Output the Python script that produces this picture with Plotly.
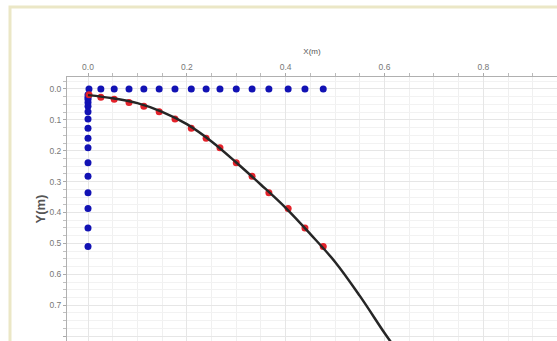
import plotly.graph_objects as go

# Measured positions (m)
x_pos = [0.002, 0.026, 0.053, 0.083, 0.113, 0.144, 0.176, 0.209, 0.239, 0.267,
         0.300, 0.332, 0.366, 0.405, 0.439, 0.476]
y_pos = [0.019, 0.027, 0.033, 0.044, 0.056, 0.074, 0.097, 0.127, 0.160, 0.190,
         0.239, 0.283, 0.336, 0.387, 0.450, 0.510]

# Projections of the positions onto the axes
proj_x_on_top = [0.0] * len(x_pos)
proj_y_on_left = [0.0] * len(y_pos)

# Trend curve
curve_x = [0.0, 0.05, 0.10, 0.15, 0.20, 0.25, 0.30, 0.35, 0.40, 0.45, 0.50, 0.55, 0.60, 0.62]
curve_y = [0.020, 0.030, 0.046, 0.074, 0.114, 0.170, 0.238, 0.310, 0.385, 0.470, 0.560, 0.670, 0.790, 0.835]

x_ticks = [0.0, 0.2, 0.4, 0.6, 0.8]
y_ticks = [0.0, 0.1, 0.2, 0.3, 0.4, 0.5, 0.6, 0.7, 0.8]

fig = go.Figure()

blue = "#1212b4"
fig.add_trace(go.Scatter(x=x_pos, y=proj_x_on_top, mode="markers",
                         marker=dict(color=blue, size=7), showlegend=False))
fig.add_trace(go.Scatter(x=proj_y_on_left, y=y_pos, mode="markers",
                         marker=dict(color=blue, size=7), showlegend=False))
fig.add_trace(go.Scatter(x=x_pos, y=y_pos, mode="markers",
                         marker=dict(color="#e3222a", size=7), showlegend=False))
fig.add_trace(go.Scatter(x=curve_x, y=curve_y, mode="lines", line_shape="spline",
                         line=dict(color="#262626", width=2.5), showlegend=False))

W, H = 557, 341
L, T = 67, 77
pw, ph = W - L, H - T

fig.update_layout(
    width=W, height=H,
    margin=dict(l=L, r=0, t=T, b=0),
    paper_bgcolor="white", plot_bgcolor="white",
    font=dict(family="Liberation Sans, Arial, sans-serif", color="#777777", size=8),
    xaxis=dict(
        side="top", range=[-0.0425, 0.949],
        tickvals=x_ticks, ticktext=[f"{v:.1f}" for v in x_ticks],
        ticks="outside", ticklen=3, tickcolor="#aaaaaa",
        showline=True, linecolor="#b0b0b0", linewidth=1,
        showgrid=True, gridcolor="#e6e6e6", gridwidth=1,
        zeroline=False,
        minor=dict(dtick=0.05, ticks="outside", ticklen=3, tickcolor="#bbbbbb",
                   showgrid=True, gridcolor="#f0f0f0"),
        title=dict(text="X(m)", font=dict(size=8, color="#555555"), standoff=5),
        tickfont=dict(size=8.5, color="#777777"),
    ),
    yaxis=dict(
        autorange=False, range=[0.816, -0.0387],
        tickvals=y_ticks, ticktext=[f"{v:.1f}" for v in y_ticks],
        ticks="outside", ticklen=3, tickcolor="#aaaaaa",
        showline=True, linecolor="#b0b0b0", linewidth=1,
        showgrid=True, gridcolor="#e6e6e6", gridwidth=1,
        zeroline=False,
        minor=dict(dtick=0.025, ticks="outside", ticklen=3, tickcolor="#c0c0c0",
                   showgrid=True, gridcolor="#f2f2f2"),
        title=dict(text="<b>Y(m)</b>", font=dict(size=13, color="#555555"), standoff=0),
        tickfont=dict(size=8.5, color="#777777"),
    ),
    shapes=[
        dict(type="rect", xref="paper", yref="paper",
             x0=(10 - L) / pw, x1=1.2, y0=-0.3, y1=1 + (T - 7) / ph,
             line=dict(color="#ebe7c6", width=3), fillcolor="rgba(0,0,0,0)", layer="below"),
    ],
)

fig.write_html("out.html", config={"displayModeBar": False},
               post_script="document.body.style.margin='0';document.body.style.overflow='hidden';")
